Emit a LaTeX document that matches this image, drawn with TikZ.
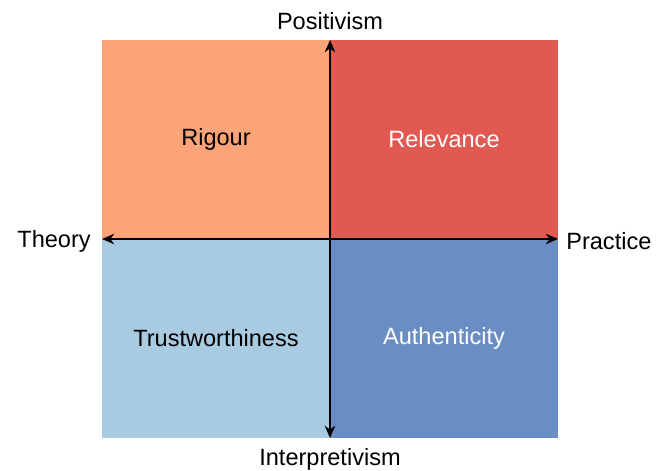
\documentclass[tikz,border=0pt]{standalone}
\usepackage{fontspec}
\setmainfont{Liberation Sans}
\usetikzlibrary{arrows.meta}
\definecolor{rigourc}{HTML}{FCA477}
\definecolor{relevc}{HTML}{E05A52}
\definecolor{trustc}{HTML}{A8CBE2}
\definecolor{authc}{HTML}{6A8EC3}
\tikzset{
  quad/.style={draw=none, minimum width=4.56cm, minimum height=3.98cm, inner sep=0pt, font=\fontsize{13.4}{15}\selectfont},
  axislabel/.style={font=\fontsize{13.4}{15}\selectfont, inner sep=0pt}
}
\begin{document}
\begin{tikzpicture}[x=0.02cm, y=-0.02cm]
    \useasboundingbox (0,0) rectangle (662,470);
    \node[quad, fill=rigourc, text=black] (1) at (216,139.5) {Rigour};
    \node[quad, fill=relevc, text=white] (2) at (444,139.5) {Relevance};
    \node[quad, fill=trustc, text=black] (3) at (216,338.5) {Trustworthiness};
    \node[quad, fill=authc, text=white] (4) at (444,338.5) {Authenticity};

    \coordinate (c) at (330,239);
    \coordinate (top) at (330,40);
    \coordinate (bot) at (330,438);
    \coordinate (left) at (102,239);
    \coordinate (right) at (558,239);

    \foreach \dest in {top, bot, left, right}
      \draw[-{Stealth[length=7pt, width=6pt]}, line width=0.8pt] (c) -- (\dest);

    \node[axislabel] (pos) at (330,21) {Positivism};
    \node[axislabel] (int) at (330,459) {Interpretivism};
    \node[axislabel, anchor=east] (theo) at (91,241) {Theory};
    \node[axislabel, anchor=west] (prac) at (566,241) {Practice};
\end{tikzpicture}
\end{document}
